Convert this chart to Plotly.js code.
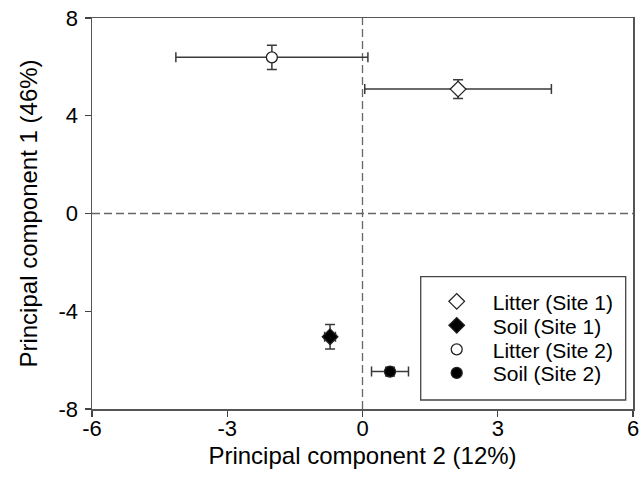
<!DOCTYPE html>
<html>
<head>
<meta charset="utf-8">
<script src="https://cdn.plot.ly/plotly-3.0.1.min.js"></script>
<style>html,body{margin:0;padding:0;background:#fff;}#chart{width:641px;height:500px;}</style>
</head>
<body>
<div id="chart"></div>
<script>
const seriesNames = ["Litter (Site 1)", "Soil (Site 1)", "Litter (Site 2)", "Soil (Site 2)"];
const pc2 = [2.12, -0.72, -2.01, 0.61];
const pc1 = [5.09, -5.04, 6.39, -6.47];
const pc2Err = [2.07, 0.12, 2.13, 0.41];
const pc1Err = [0.38, 0.50, 0.50, 0.18];
const symbols = ["diamond", "diamond", "circle", "circle"];
const fills = ["#ffffff", "#000000", "#ffffff", "#000000"];
const xTicks = [-6, -3, 0, 3, 6];
const yTicks = [-8, -4, 0, 4, 8];

const font = "Liberation Sans, Arial, sans-serif";
const legendNames = ["legend", "legend2", "legend3", "legend4"];
const legendRowY = [0.2744, 0.2130, 0.1517, 0.0913];

const traces = seriesNames.map((name, i) => ({
  type: "scatter",
  mode: "markers",
  name: name,
  legend: legendNames[i],
  x: [pc2[i]],
  y: [pc1[i]],
  error_x: {type: "data", array: [pc2Err[i]], color: "#3a3a3a", thickness: 1.5, width: 5},
  error_y: {type: "data", array: [pc1Err[i]], color: "#3a3a3a", thickness: 1.5, width: 5},
  marker: {symbol: symbols[i], size: symbols[i] === "diamond" ? 12 : 11, color: fills[i],
           line: {color: "#222", width: 1.3}}
}));

const layout = {
  width: 641, height: 500,
  margin: {l: 92, r: 8, t: 18, b: 91},
  paper_bgcolor: "#fff", plot_bgcolor: "#fff",
  font: {family: font, size: 22, color: "#000"},
  showlegend: true,
  xaxis: {range: [-6, 6], tickvals: xTicks, ticktext: xTicks.map(String), showgrid: false, zeroline: false,
          showline: true, mirror: true, linecolor: "#555", linewidth: 1.5,
          ticks: "outside", ticklen: 6, tickwidth: 1.2, tickcolor: "#444",
          tickfont: {size: 22}, ticklabelstandoff: -7,
          title: {text: "Principal component 2 (12%)", font: {size: 24}, standoff: 7}},
  yaxis: {range: [-8, 8], tickvals: yTicks, ticktext: yTicks.map(String), showgrid: false, zeroline: false,
          showline: true, mirror: true, linecolor: "#555", linewidth: 1.5,
          ticks: "outside", ticklen: 6, tickwidth: 1.2, tickcolor: "#444",
          tickfont: {size: 22}, ticklabelstandoff: 2,
          title: {text: "Principal component 1 (46%)", font: {size: 24}, standoff: 14}},
  shapes: [
    {type: "line", xref: "x", yref: "paper", x0: 0, x1: 0, y0: 0, y1: 1, layer: "below",
     line: {color: "#666", width: 1.3, dash: "8px,4px"}},
    {type: "line", xref: "paper", yref: "y", x0: 0, x1: 1, y0: 0, y1: 0, layer: "below",
     line: {color: "#666", width: 1.3, dash: "8px,4px"}},
    {type: "rect", xref: "paper", yref: "paper", x0: 0.6076, x1: 0.9865, y0: 0.023, y1: 0.3384,
     layer: "above", fillcolor: "rgba(0,0,0,0)", line: {color: "#444", width: 1.3}}
  ]
};
legendNames.forEach((ln, i) => {
  layout[ln] = {x: 0.6076, y: legendRowY[i], xanchor: "left", yanchor: "middle",
                bgcolor: "rgba(0,0,0,0)", borderwidth: 0, itemwidth: 62,
                font: {size: 21, family: font, color: "#000"}};
});

Plotly.newPlot("chart", traces, layout, {staticPlot: true});
</script>
</body>
</html>
